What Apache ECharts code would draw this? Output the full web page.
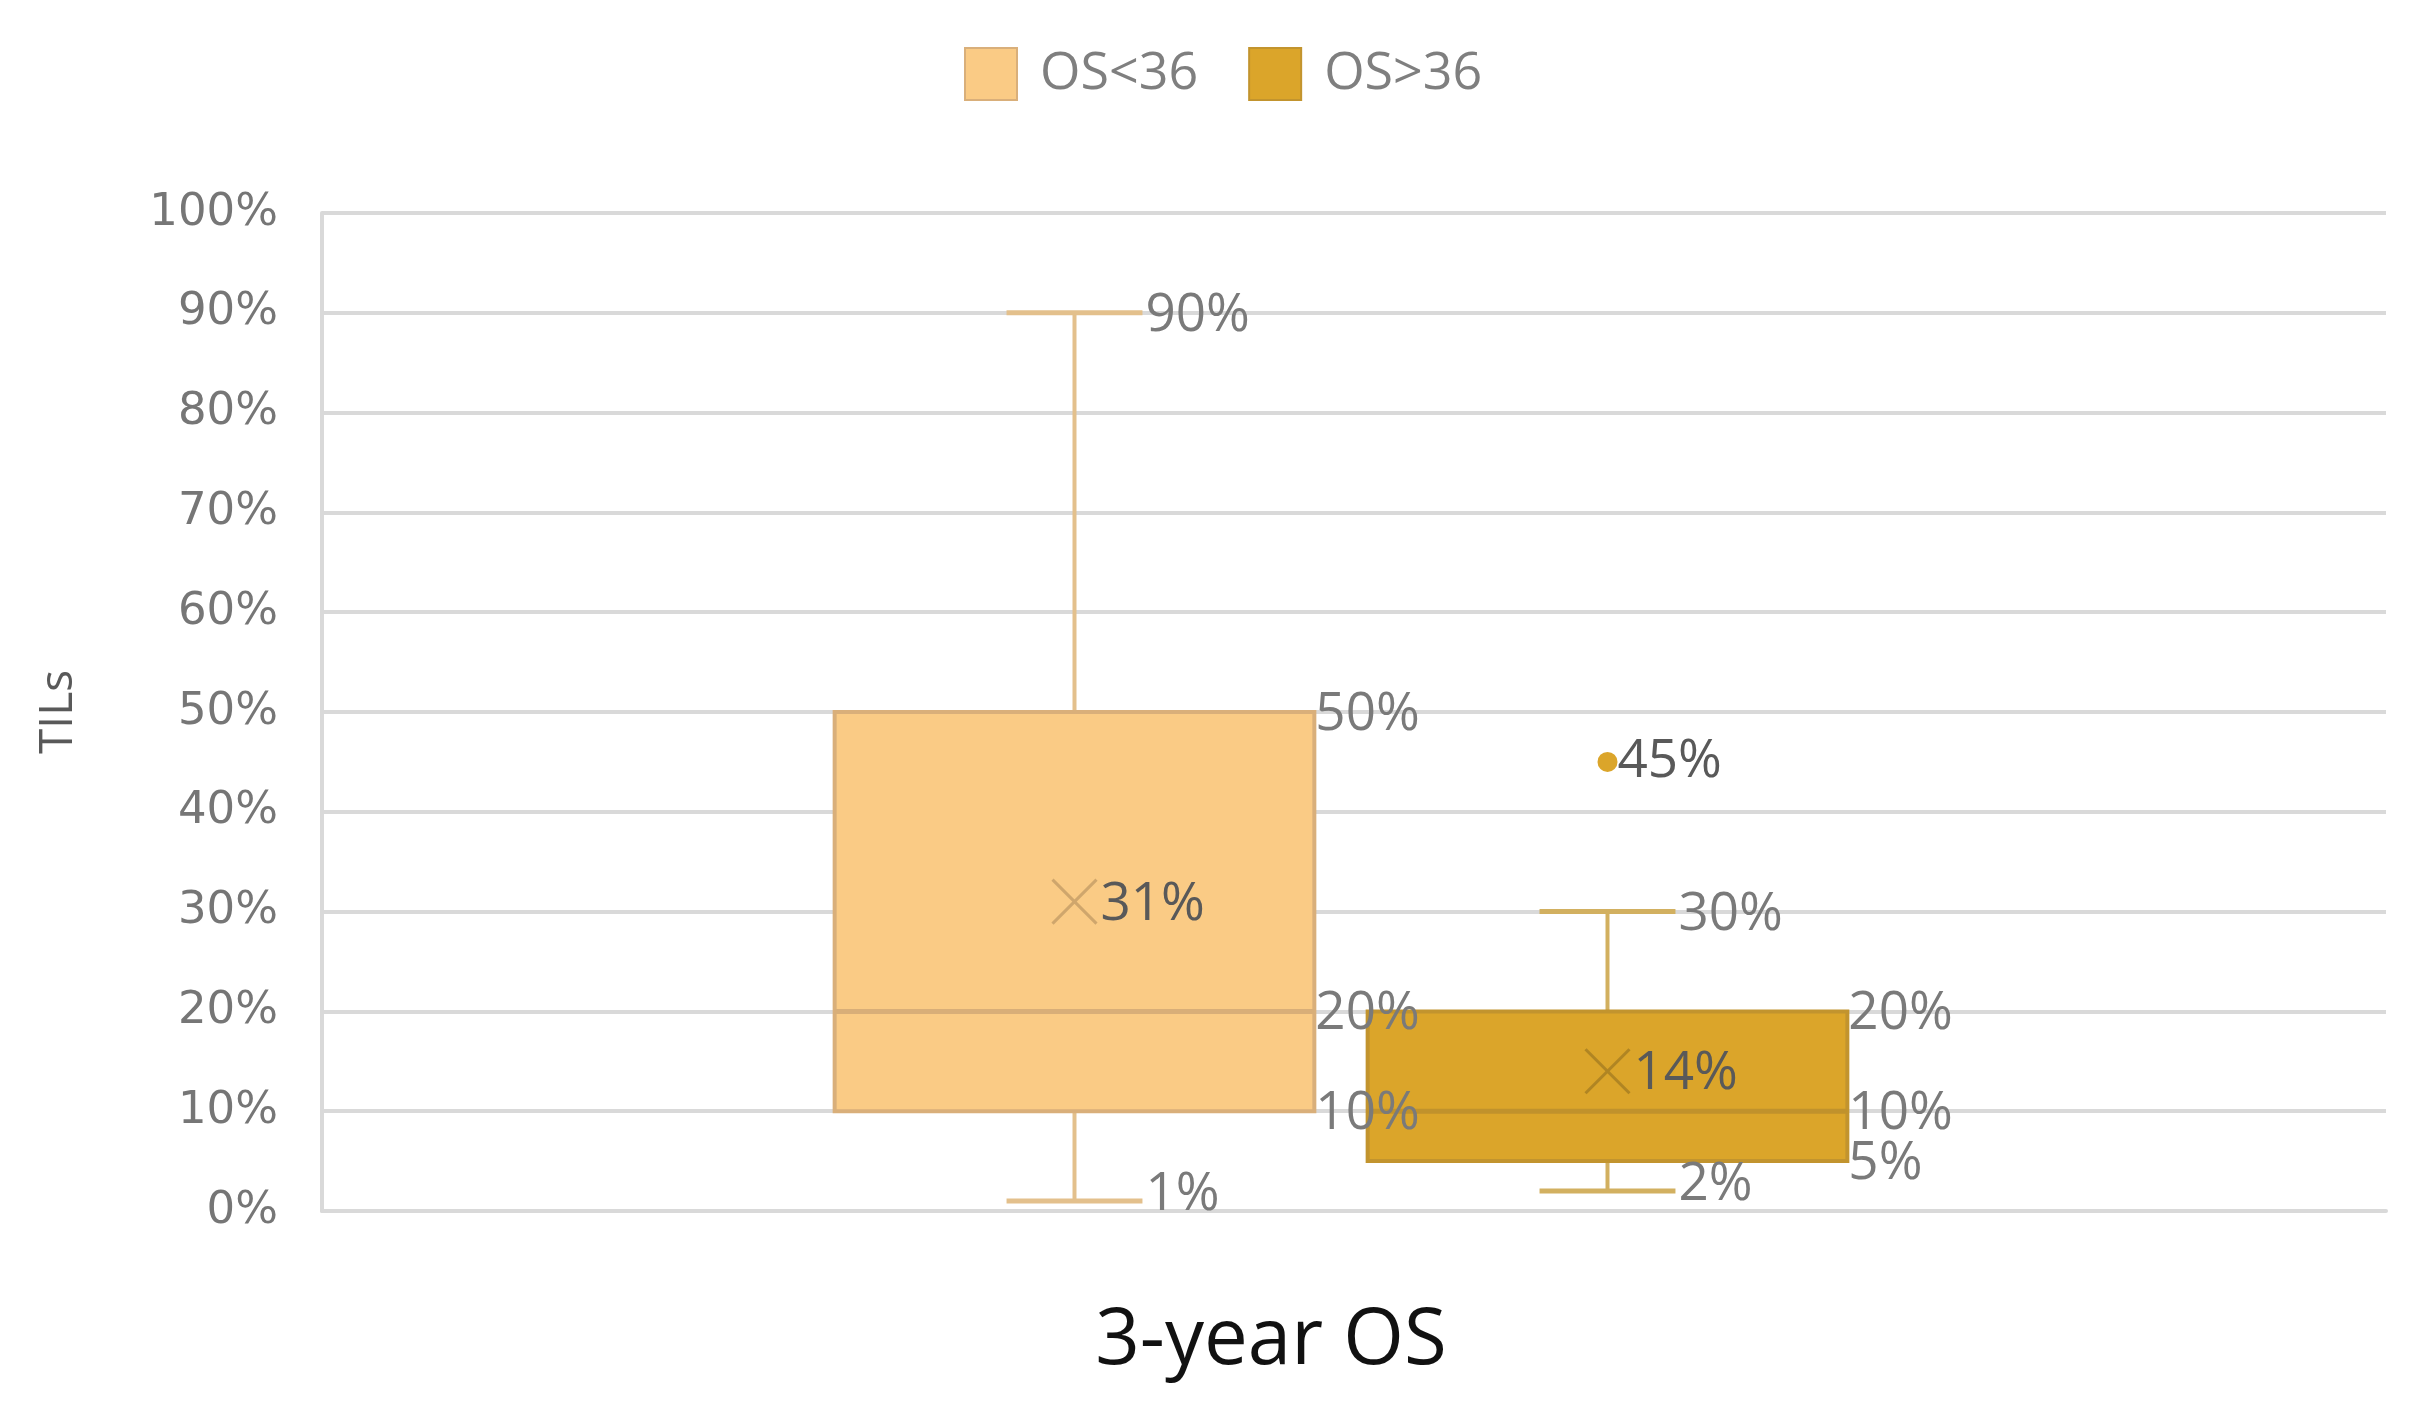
<!doctype html>
<html>
<head>
	<meta charset="utf-8">
	<style>
		html, body { margin: 0; padding: 0; background: #fff; }
		#chart { width: 2425px; height: 1416px; }
	</style>
</head>
<body>
	<div id="chart"></div>
	<script src="https://cdn.jsdelivr.net/npm/echarts@6/dist/echarts.min.js"></script>
	<script type="text/javascript">
	// groups (legend entries)
	var groups = ['OS<36', 'OS>36'];
	// five-number summary per group, in %
	var minValues = [1, 2];
	var q1Values = [10, 5];
	var medianValues = [20, 10];
	var q3Values = [50, 20];
	var maxValues = [90, 30];
	var meanValues = [31, 14];
	// outliers: [group index, value]
	var outliers = [[1, 45]];

	var styles = [
		{ fill: '#FACB85', border: '#D9AF7A', whisker: '#E3C08C', median: '#D8AE78', cross: '#CFA66C' },
		{ fill: '#DBA52A', border: '#C2942E', whisker: '#D2B060', median: '#C0922C', cross: '#B08523' }
	];
	var labelFont = 'Open Sans';

	function pct(v) { return v + '%'; }

	function renderBox(params, api) {
		var c = api.value(0);
		var band = api.size([1, 0])[0];
		var cx = api.coord([c, 0])[0];
		var bw = band * 0.9, cw = band * 0.255;
		var y = function (i) { return api.coord([c, api.value(i)])[1]; };
		var yMin = y(1), yQ1 = y(2), yMed = y(3), yQ3 = y(4), yMax = y(5), yMean = y(6);
		var st = styles[params.seriesIndex];
		var left = cx - bw / 2, right = cx + bw / 2;
		var cs = 22;

		function line(x1, y1, x2, y2, color, w) {
			return { type: 'line', shape: { x1: x1, y1: y1, x2: x2, y2: y2 }, style: { stroke: color, lineWidth: w } };
		}
		function text(str, x, yy, color) {
			return {
				type: 'text', x: x, y: yy, z2: 20,
				style: { text: str, fill: color, fontSize: 53, fontFamily: labelFont, align: 'left', verticalAlign: 'middle' }
			};
		}

		return {
			type: 'group',
			children: [
				line(cx, yMax, cx, yQ3, st.whisker, 4),
				line(cx, yQ1, cx, yMin, st.whisker, 4),
				line(cx - cw / 2, yMax, cx + cw / 2, yMax, st.whisker, 5),
				line(cx - cw / 2, yMin, cx + cw / 2, yMin, st.whisker, 5),
				{ type: 'rect', shape: { x: left, y: yQ3, width: bw, height: yQ1 - yQ3 },
					style: { fill: st.fill, stroke: st.border, lineWidth: 4 } },
				line(left, yMed, right, yMed, st.median, 5),
				line(cx - cs, yMean - cs, cx + cs, yMean + cs, st.cross, 3),
				line(cx - cs, yMean + cs, cx + cs, yMean - cs, st.cross, 3),
				text(pct(api.value(5)), cx + cw / 2 + 3, yMax + 3, '#7a7a7a'),
				text(pct(api.value(4)), right + 1, yQ3 + 3, '#7a7a7a'),
				text(pct(api.value(3)), right + 1, yMed + 3, '#7a7a7a'),
				text(pct(api.value(2)), right + 1, yQ1 + 3, '#7a7a7a'),
				text(pct(api.value(1)), cx + cw / 2 + 3, yMin - 6, '#7a7a7a'),
				text(pct(api.value(6)), cx + 26, yMean + 3, '#595959')
			]
		};
	}

	var series = groups.map(function (name, i) {
		return {
			name: name,
			type: 'custom',
			xAxisIndex: 1,
			yAxisIndex: 1,
			clip: false,
			itemStyle: { color: styles[i].fill, borderColor: styles[i].border, borderWidth: 3 },
			renderItem: renderBox,
			encode: { x: 0, y: [1, 2, 3, 4, 5, 6] },
			data: [[i, minValues[i], q1Values[i], medianValues[i], q3Values[i], maxValues[i], meanValues[i]]]
		};
	});
	series.push({
		name: 'outlier',
		type: 'scatter',
		xAxisIndex: 1,
		yAxisIndex: 1,
		symbol: 'circle',
		symbolSize: 20,
		itemStyle: { color: styles[1].fill, opacity: 1 },
		label: {
			show: true, position: 'right', distance: 0,
			formatter: function (p) { return pct(p.value[1]); },
			color: '#595959', fontSize: 53, fontFamily: labelFont
		},
		data: outliers
	});

	var myChart = echarts.init(document.getElementById('chart'));
	var option = {
		animation: false,
		backgroundColor: '#fff',
		legend: {
			left: 959,
			top: 42,
			itemWidth: 52,
			itemHeight: 52,
			itemGap: 50,
			icon: 'rect',
			textStyle: { color: '#7f7f7f', fontSize: 52, fontFamily: labelFont, padding: [0, 0, 0, 18] },
			data: groups
		},
		grid: [
			{ left: 322, right: 39, top: 213, bottom: 205 },
			{ left: 808, right: 551, top: 213, bottom: 205 }
		],
		xAxis: [
			{
				type: 'category', gridIndex: 0, data: ['3-year OS'],
				axisLabel: { show: false }, axisTick: { show: false },
				axisLine: { lineStyle: { color: '#D9D9D9', width: 4 } }
			},
			{ type: 'category', gridIndex: 1, data: groups, show: false }
		],
		yAxis: [
			{
				type: 'value', gridIndex: 0, min: 0, max: 100, interval: 10,
				name: 'TILs', nameLocation: 'middle', nameGap: 240,
				nameTextStyle: { color: '#595959', fontSize: 46, fontFamily: labelFont },
				axisLabel: { formatter: '{value}%', color: '#767676', fontSize: 45, fontFamily: 'DejaVu Sans', margin: 44 },
				axisTick: { show: false },
				axisLine: { show: true, lineStyle: { color: '#D9D9D9', width: 4 } },
				splitLine: { lineStyle: { color: '#D9D9D9', width: 4 } }
			},
			{ type: 'value', gridIndex: 1, min: 0, max: 100, show: false }
		],
		graphic: [{
			type: 'text', x: 1271, y: 1342,
			style: { text: '3-year OS', fill: '#111', fontSize: 78, fontFamily: labelFont, align: 'center', verticalAlign: 'middle' }
		}],
		series: series
	};
	myChart.setOption(option);
	</script>
</body>
</html>
